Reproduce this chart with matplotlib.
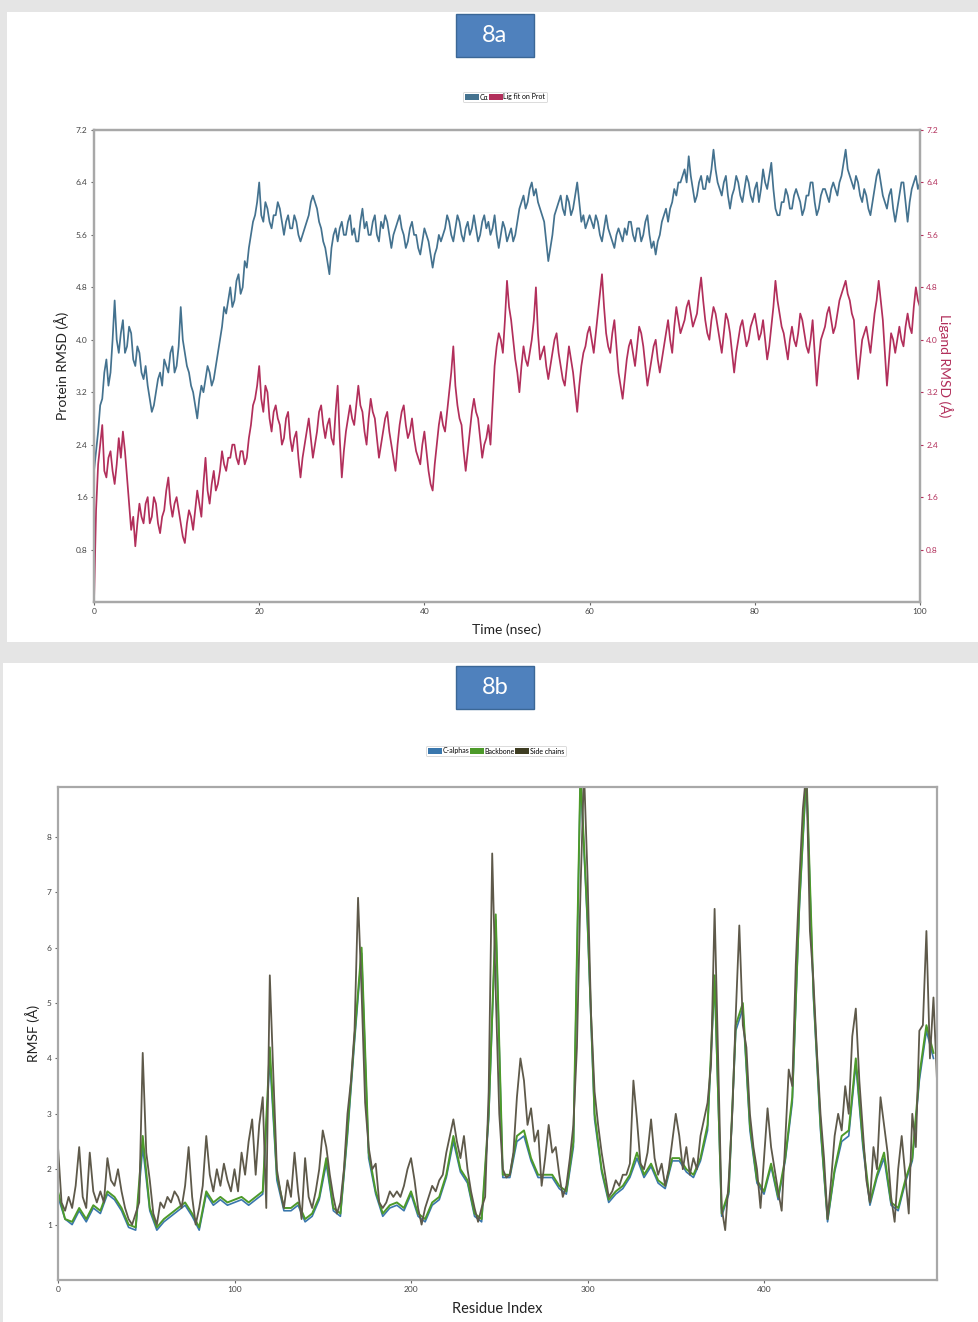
import numpy as np
import matplotlib
matplotlib.use("Agg")
import matplotlib.pyplot as plt
from matplotlib.patches import Rectangle, Patch

plt.rcParams["font.family"] = ["Lato", "DejaVu Sans"]

# ---------------- RMSD data (0.25 ns sampling, 0-100 ns) ----------------
time_step_ns = 0.25
protein_rmsd = [
    2.0, 2.3, 2.6, 3.0, 3.1, 3.5, 3.7, 3.3, 3.5, 4.0, 4.6, 4.0, 3.8, 4.1, 4.3, 3.8, 3.9, 4.2, 4.1, 3.7,
    3.6, 3.9, 3.8, 3.5, 3.4, 3.6, 3.3, 3.1, 2.9, 3.0, 3.2, 3.4, 3.5, 3.3, 3.7, 3.6, 3.5, 3.8, 3.9, 3.5,
    3.6, 3.9, 4.5, 4.0, 3.8, 3.6, 3.5, 3.3, 3.2, 3.0, 2.8, 3.1, 3.3, 3.2, 3.4, 3.6, 3.5, 3.3, 3.4, 3.6,
    3.8, 4.0, 4.2, 4.5, 4.4, 4.6, 4.8, 4.5, 4.6, 4.9, 5.0, 4.7, 4.8, 5.2, 5.1, 5.4, 5.6, 5.8, 5.9, 6.1,
    6.4, 5.9, 5.8, 6.1, 6.0, 5.8, 5.7, 5.9, 5.9, 6.1, 6.0, 5.8, 5.6, 5.8, 5.9, 5.7, 5.7, 5.9, 5.8, 5.6,
    5.5, 5.6, 5.7, 5.8, 5.9, 6.1, 6.2, 6.1, 6.0, 5.8, 5.7, 5.5, 5.4, 5.2, 5.0, 5.4, 5.6, 5.7, 5.5, 5.7,
    5.8, 5.6, 5.6, 5.8, 5.9, 5.6, 5.7, 5.5, 5.5, 5.8, 6.0, 5.7, 5.8, 5.6, 5.6, 5.8, 5.9, 5.6, 5.5, 5.8,
    5.7, 5.9, 5.8, 5.6, 5.4, 5.6, 5.7, 5.8, 5.9, 5.7, 5.6, 5.4, 5.5, 5.7, 5.8, 5.6, 5.6, 5.4, 5.3, 5.5,
    5.7, 5.6, 5.5, 5.3, 5.1, 5.3, 5.4, 5.6, 5.5, 5.6, 5.7, 5.9, 5.8, 5.6, 5.5, 5.7, 5.9, 5.8, 5.6, 5.5,
    5.7, 5.8, 5.6, 5.7, 5.9, 5.7, 5.5, 5.6, 5.8, 5.9, 5.7, 5.8, 5.6, 5.7, 5.9, 5.6, 5.4, 5.6, 5.8, 5.7,
    5.5, 5.6, 5.7, 5.5, 5.6, 5.8, 6.0, 6.1, 6.2, 6.0, 6.1, 6.3, 6.4, 6.2, 6.3, 6.1, 6.0, 5.9, 5.8, 5.5,
    5.2, 5.4, 5.6, 5.9, 6.0, 6.1, 6.2, 6.0, 5.9, 6.2, 6.1, 5.9, 6.0, 6.2, 6.4, 6.1, 5.8, 5.9, 5.7, 5.8,
    5.9, 5.8, 5.7, 5.9, 5.8, 5.6, 5.5, 5.7, 5.9, 5.7, 5.6, 5.5, 5.4, 5.6, 5.7, 5.6, 5.5, 5.7, 5.6, 5.8,
    5.8, 5.6, 5.5, 5.7, 5.7, 5.5, 5.6, 5.8, 5.9, 5.6, 5.4, 5.5, 5.3, 5.5, 5.6, 5.8, 5.9, 6.0, 5.8, 6.0,
    6.1, 6.3, 6.2, 6.4, 6.4, 6.5, 6.6, 6.4, 6.8, 6.5, 6.3, 6.1, 6.2, 6.4, 6.5, 6.3, 6.3, 6.5, 6.4, 6.6,
    6.9, 6.6, 6.4, 6.3, 6.2, 6.4, 6.5, 6.2, 6.0, 6.2, 6.3, 6.5, 6.4, 6.2, 6.1, 6.3, 6.5, 6.4, 6.2, 6.1,
    6.3, 6.4, 6.1, 6.3, 6.6, 6.4, 6.3, 6.5, 6.7, 6.3, 6.0, 5.9, 5.9, 6.1, 6.1, 6.3, 6.2, 6.0, 6.0, 6.2,
    6.3, 6.2, 6.1, 5.9, 6.0, 6.2, 6.2, 6.4, 6.4, 6.1, 5.9, 6.0, 6.2, 6.3, 6.3, 6.2, 6.1, 6.3, 6.4, 6.3,
    6.2, 6.4, 6.5, 6.7, 6.9, 6.6, 6.5, 6.4, 6.3, 6.5, 6.4, 6.2, 6.1, 6.3, 6.2, 6.0, 5.9, 6.1, 6.3, 6.5,
    6.6, 6.4, 6.2, 6.1, 6.0, 6.2, 6.3, 6.0, 5.8, 6.0, 6.2, 6.4, 6.4, 6.1, 5.8, 6.1, 6.3, 6.4, 6.5, 6.3,
    6.4,
]
ligand_rmsd = [
    0.0, 1.4, 2.1, 2.4, 2.7, 2.0, 1.9, 2.2, 2.3, 2.0, 1.8, 2.1, 2.5, 2.2, 2.6, 2.3, 1.9, 1.5, 1.1, 1.3,
    0.85, 1.2, 1.5, 1.3, 1.2, 1.5, 1.6, 1.2, 1.3, 1.6, 1.5, 1.2, 1.05, 1.3, 1.4, 1.7, 1.9, 1.5, 1.3, 1.5,
    1.6, 1.4, 1.2, 1.0, 0.9, 1.2, 1.4, 1.3, 1.1, 1.4, 1.7, 1.5, 1.3, 1.8, 2.2, 1.7, 1.5, 1.8, 2.0, 1.7,
    1.8, 2.0, 2.3, 2.1, 2.0, 2.2, 2.2, 2.4, 2.4, 2.2, 2.1, 2.3, 2.3, 2.1, 2.2, 2.5, 2.7, 3.0, 3.1, 3.3,
    3.6, 3.1, 2.9, 3.3, 3.2, 2.8, 2.6, 2.9, 3.0, 2.8, 2.7, 2.4, 2.5, 2.8, 2.9, 2.5, 2.3, 2.5, 2.6, 2.2,
    1.9, 2.2, 2.4, 2.6, 2.8, 2.5, 2.2, 2.4, 2.6, 2.9, 3.0, 2.7, 2.5, 2.7, 2.8, 2.5, 2.4, 2.9, 3.3, 2.5,
    1.9, 2.3, 2.6, 2.8, 3.0, 2.8, 2.7, 3.0, 3.3, 3.0, 2.9, 2.6, 2.4, 2.8, 3.1, 2.9, 2.8, 2.5, 2.2, 2.4,
    2.6, 2.8, 2.9, 2.6, 2.4, 2.2, 2.0, 2.4, 2.7, 2.9, 3.0, 2.7, 2.5, 2.6, 2.8, 2.5, 2.3, 2.2, 2.1, 2.4,
    2.6, 2.3, 2.0, 1.8, 1.7, 2.1, 2.4, 2.7, 2.9, 2.7, 2.6, 2.9, 3.2, 3.5, 3.9, 3.3, 3.0, 2.8, 2.7, 2.3,
    2.0, 2.3, 2.6, 2.9, 3.1, 2.9, 2.8, 2.5, 2.2, 2.4, 2.5, 2.7, 2.4, 3.0, 3.6, 3.9, 4.1, 4.0, 3.8, 4.3,
    4.9, 4.5, 4.3, 4.0, 3.7, 3.5, 3.2, 3.6, 3.9, 3.7, 3.6, 3.8, 4.0, 4.3, 4.8, 4.1, 3.7, 3.8, 3.9, 3.6,
    3.4, 3.6, 3.8, 4.0, 4.1, 3.8, 3.6, 3.4, 3.3, 3.6, 3.9, 3.7, 3.5, 3.2, 2.9, 3.3, 3.6, 3.8, 3.9, 4.1,
    4.2, 4.0, 3.8, 4.1, 4.4, 4.7, 5.0, 4.5, 4.1, 3.9, 3.8, 4.1, 4.3, 3.9, 3.5, 3.3, 3.1, 3.4, 3.7, 3.9,
    4.0, 3.8, 3.6, 3.9, 4.2, 4.1, 3.9, 3.6, 3.3, 3.5, 3.7, 3.9, 4.0, 3.7, 3.5, 3.7, 3.9, 4.1, 4.3, 4.0,
    3.8, 4.2, 4.5, 4.3, 4.1, 4.2, 4.3, 4.5, 4.6, 4.4, 4.2, 4.3, 4.4, 4.7, 4.95, 4.6, 4.3, 4.1, 4.0, 4.3,
    4.5, 4.4, 4.2, 4.0, 3.8, 4.1, 4.4, 4.3, 4.1, 3.8, 3.5, 3.8, 4.0, 4.2, 4.3, 4.1, 3.9, 4.0, 4.2, 4.3,
    4.4, 4.2, 4.0, 4.1, 4.3, 4.0, 3.7, 3.9, 4.2, 4.5, 4.9, 4.6, 4.4, 4.2, 4.1, 3.9, 3.7, 4.0, 4.2, 4.0,
    3.9, 4.1, 4.4, 4.3, 4.1, 3.9, 3.8, 4.0, 4.3, 3.8, 3.3, 3.7, 4.0, 4.1, 4.2, 4.4, 4.5, 4.3, 4.1, 4.2,
    4.4, 4.6, 4.7, 4.8, 4.9, 4.7, 4.6, 4.4, 4.3, 3.8, 3.4, 3.7, 4.0, 4.1, 4.2, 4.0, 3.8, 4.1, 4.4, 4.6,
    4.9, 4.6, 4.3, 3.8, 3.3, 3.7, 4.1, 4.0, 3.8, 4.0, 4.2, 4.0, 3.9, 4.2, 4.4, 4.2, 4.1, 4.5, 4.8, 4.6,
    4.5,
]
rmsd_ticks = [0.8, 1.6, 2.4, 3.2, 4.0, 4.8, 5.6, 6.4, 7.2]
time_ticks = [0, 20, 40, 60, 80, 100]

# ---------------- RMSF data ----------------
side_chain_step = 2
side_chains_rmsf = [
    2.4, 1.4, 1.25, 1.5, 1.3, 1.7, 2.4, 1.5, 1.3, 2.3, 1.6, 1.4, 1.6, 1.4, 2.2, 1.8, 1.7, 2.0, 1.6, 1.3,
    1.1, 1.0, 1.2, 1.4, 4.1, 2.3, 1.8, 1.2, 1.0, 1.4, 1.3, 1.5, 1.4, 1.6, 1.5, 1.3, 1.7, 2.4, 1.5, 1.0,
    1.3, 1.7, 2.6, 1.9, 1.6, 2.0, 1.7, 2.1, 1.8, 1.6, 2.0, 1.6, 2.3, 1.9, 2.5, 2.9, 1.9, 2.8, 3.3, 1.3,
    5.5, 3.7, 2.0, 1.6, 1.3, 1.8, 1.5, 2.3, 1.6, 1.1, 2.2, 1.5, 1.3, 1.6, 2.0, 2.7, 2.4, 1.9, 1.5, 1.2,
    1.4, 2.0, 3.0, 3.6, 4.5, 6.9, 5.2, 3.2, 2.4, 2.0, 2.1, 1.4, 1.3, 1.4, 1.6, 1.5, 1.6, 1.5, 1.7, 2.0,
    2.2, 1.8, 1.3, 1.0, 1.3, 1.5, 1.7, 1.6, 1.8, 1.9, 2.3, 2.6, 2.9, 2.5, 2.2, 2.6, 2.0, 1.6, 1.3, 1.05,
    1.3, 1.5, 3.4, 7.7, 5.2, 3.0, 2.0, 1.85, 1.9, 2.3, 3.3, 4.0, 3.6, 2.8, 3.1, 2.5, 2.7, 1.7, 2.2, 2.8,
    2.3, 2.4, 1.9, 1.5, 1.7, 2.2, 2.8, 4.2, 7.0, 9.2, 7.3, 4.8, 3.4, 2.8, 2.3, 1.9, 1.5, 1.6, 1.8, 1.7,
    1.9, 1.9, 2.1, 3.6, 2.9, 2.1, 2.0, 2.3, 2.9, 2.2, 1.9, 2.1, 1.7, 2.0, 2.5, 3.0, 2.6, 2.0, 2.4, 1.9,
    2.2, 2.0, 2.6, 2.9, 3.2, 3.9, 6.7, 4.0, 1.3, 0.9, 1.8, 3.0, 4.8, 6.4, 4.6, 4.2, 3.0, 2.4, 2.0, 1.3,
    2.2, 3.1, 2.4, 2.0, 1.6, 1.25, 2.5, 3.8, 3.5, 5.7, 7.2, 8.5, 9.2, 6.3, 5.4, 4.1, 3.0, 2.2, 1.1, 1.8,
    2.6, 3.0, 2.7, 3.5, 3.0, 4.4, 4.9, 3.6, 2.7, 1.8, 1.4, 2.4, 2.0, 3.3, 2.8, 2.3, 1.5, 1.05, 2.0, 2.6,
    1.9, 1.2, 3.0, 2.4, 4.5, 4.6, 6.3, 4.0, 5.1, 3.6,
]
backbone_step = 4
backbone_rmsf = [
    1.6, 1.1, 1.05, 1.3, 1.1, 1.35, 1.25, 1.6, 1.5, 1.3, 1.0, 0.95, 2.6, 1.3, 0.95, 1.1, 1.2, 1.3, 1.4, 1.2,
    0.95, 1.6, 1.4, 1.5, 1.4, 1.45, 1.5, 1.4, 1.5, 1.6, 4.2, 1.9, 1.3, 1.3, 1.4, 1.1, 1.2, 1.5, 2.2, 1.3,
    1.2, 2.7, 4.4, 6.0, 2.3, 1.6, 1.2, 1.35, 1.4, 1.3, 1.6, 1.2, 1.1, 1.4, 1.5, 1.9, 2.6, 2.0, 1.8, 1.2,
    1.1, 3.0, 6.6, 1.9, 1.9, 2.6, 2.7, 2.2, 1.9, 1.9, 1.9, 1.7, 1.6, 2.5, 9.2, 6.5, 3.0, 2.0, 1.45, 1.6,
    1.7, 1.9, 2.3, 1.9, 2.1, 1.8, 1.7, 2.2, 2.2, 2.0, 1.9, 2.2, 2.8, 5.5, 1.2, 1.6, 4.6, 5.0, 2.8, 1.8,
    1.6, 2.1, 1.5, 2.2, 3.3, 6.8, 9.2, 5.2, 2.8, 1.1, 2.0, 2.6, 2.7, 4.0, 2.5, 1.4, 1.9, 2.3, 1.4, 1.3,
    1.8, 2.2, 3.7, 4.6, 4.1,
]
calpha_rmsf = [
    1.5, 1.1, 1.0, 1.25, 1.05, 1.3, 1.2, 1.55, 1.45, 1.25, 0.95, 0.9, 2.4, 1.25, 0.9, 1.05, 1.15, 1.25, 1.35, 1.15,
    0.9, 1.55, 1.35, 1.45, 1.35, 1.4, 1.45, 1.35, 1.45, 1.55, 4.0, 1.8, 1.25, 1.25, 1.35, 1.05, 1.15, 1.45, 2.1, 1.25,
    1.15, 2.6, 4.3, 5.9, 2.2, 1.55, 1.15, 1.3, 1.35, 1.25, 1.55, 1.15, 1.05, 1.35, 1.45, 1.85, 2.5, 1.95, 1.75, 1.15,
    1.05, 2.9, 6.5, 1.85, 1.85, 2.5, 2.6, 2.15, 1.85, 1.85, 1.85, 1.65, 1.55, 2.4, 9.1, 6.4, 2.9, 1.95, 1.4, 1.55,
    1.65, 1.85, 2.2, 1.85, 2.05, 1.75, 1.65, 2.15, 2.15, 1.95, 1.85, 2.15, 2.7, 5.4, 1.15, 1.55, 4.5, 4.9, 2.7, 1.75,
    1.55, 2.05, 1.45, 2.15, 3.2, 6.7, 9.1, 5.1, 2.7, 1.05, 1.95, 2.5, 2.6, 3.9, 2.4, 1.35, 1.85, 2.2, 1.35, 1.25,
    1.75, 2.15, 3.6, 4.5, 4.0,
]
rmsf_yticks = [1, 2, 3, 4, 5, 6, 7, 8]
residue_ticks = [0, 100, 200, 300, 400]

# ---------------- colours ----------------
C_PROT = "#44728f"
C_LIG = "#b22f5b"
C_CA = "#3a77ad"
C_BB = "#4d9a2a"
C_SC = "#5e594a"
SPINE = "#a8a8a8"

W, H = 979, 1322
fig = plt.figure(figsize=(W / 100, H / 100), dpi=100, facecolor="#e5e5e5")


def fx(px):
    return px / W


def fy(py):
    return 1 - py / H


# white panels behind each chart
fig.patches.append(Rectangle((fx(7), fy(642)), fx(979) - fx(7), fy(12) - fy(642),
                             transform=fig.transFigure, facecolor="white", edgecolor="none", zorder=-10))
fig.patches.append(Rectangle((fx(3), fy(1322)), fx(979) - fx(3), fy(663) - fy(1322),
                             transform=fig.transFigure, facecolor="white", edgecolor="none", zorder=-10))

# panel tags
for label, top in (("8a", 14), ("8b", 666)):
    fig.patches.append(Rectangle((fx(456), fy(top + 43)), fx(78), 43 / H,
                                 transform=fig.transFigure, facecolor="#4f81bd",
                                 edgecolor="#3b6796", linewidth=1.0, zorder=1))
    fig.text(fx(495), fy(top + 21.5), label, color="white", fontsize=17,
             ha="center", va="center", zorder=2)


def style_axis(ax):
    for s in ax.spines.values():
        s.set_color(SPINE)
        s.set_linewidth(1.6)
    ax.tick_params(axis="both", labelsize=6, length=2.5, width=0.8, color="#666666",
                   labelcolor="#444444", pad=2)


# ---------------- panel 8a ----------------
t = np.arange(len(protein_rmsd)) * time_step_ns
ax1 = fig.add_axes([fx(94), fy(602), fx(920) - fx(94), fy(130) - fy(602)])
ax1.set_facecolor("none")
ax1.plot(t, protein_rmsd, color=C_PROT, lw=1.25)
ax1.set_xlim(0, 100)
ax1.set_ylim(0, 7.2)
ax1.set_xticks(time_ticks)
ax1.set_yticks(rmsd_ticks)
ax1.set_yticklabels([f"{v:.1f}" for v in rmsd_ticks])
style_axis(ax1)
ax1.set_ylabel("Protein RMSD (Å)", fontsize=10, color="#222222")
ax1.yaxis.set_label_coords(-0.03, 0.5)
ax1.set_xlabel("Time (nsec)", fontsize=10, color="#222222")
ax1.xaxis.set_label_coords(0.5, -0.045)

ax2 = ax1.twinx()
t_lig = np.arange(len(ligand_rmsd)) * time_step_ns
ax2.plot(t_lig, ligand_rmsd, color=C_LIG, lw=1.25)
ax2.set_ylim(0, 7.2)
ax2.set_yticks(rmsd_ticks)
ax2.set_yticklabels([f"{v:.1f}" for v in rmsd_ticks])
style_axis(ax2)
ax2.tick_params(axis="y", labelcolor=C_LIG, color=C_LIG)
ax2.set_ylabel("Ligand RMSD (Å)", fontsize=10, color=C_LIG, rotation=270)
ax2.yaxis.set_label_coords(1.04, 0.5)

leg_a = fig.legend(handles=[Patch(facecolor=C_PROT, label="Cα"),
                            Patch(facecolor=C_LIG, label="Lig fit on Prot")],
                   loc="center", bbox_to_anchor=(fx(505), fy(97)), ncol=2, fontsize=5,
                   handlelength=2.0, handleheight=0.8, handletextpad=0.1, columnspacing=0.1,
                   borderpad=0.25, frameon=True, fancybox=True)
leg_a.get_frame().set_edgecolor("#cccccc")
leg_a.get_frame().set_linewidth(0.6)

# ---------------- panel 8b ----------------
r_sc = np.arange(len(side_chains_rmsf)) * side_chain_step
r_bb = np.arange(len(backbone_rmsf)) * backbone_step
r_ca = np.arange(len(calpha_rmsf)) * backbone_step

ax3 = fig.add_axes([fx(58), fy(1280), fx(937) - fx(58), fy(787) - fy(1280)])
ax3.set_facecolor("none")
ax3.plot(r_ca, calpha_rmsf, color=C_CA, lw=1.2)
ax3.plot(r_bb, backbone_rmsf, color=C_BB, lw=1.4)
ax3.plot(r_sc, side_chains_rmsf, color=C_SC, lw=1.3)
ax3.set_xlim(0, 498)
ax3.set_ylim(0, 8.9)
ax3.set_xticks(residue_ticks)
ax3.set_yticks(rmsf_yticks)
style_axis(ax3)
ax3.set_ylabel("RMSF (Å)", fontsize=10, color="#222222")
ax3.yaxis.set_label_coords(-0.02, 0.5)
ax3.set_xlabel("Residue Index", fontsize=10.5, color="#222222")
ax3.xaxis.set_label_coords(0.5, -0.045)

leg_b = fig.legend(handles=[Patch(facecolor=C_CA, label="C-alphas"),
                            Patch(facecolor=C_BB, label="Backbone"),
                            Patch(facecolor="#3e3d22", label="Side chains")],
                   loc="center", bbox_to_anchor=(fx(496), fy(751)), ncol=3, fontsize=5,
                   handlelength=2.0, handleheight=0.8, handletextpad=0.1, columnspacing=0.1,
                   borderpad=0.25, frameon=True, fancybox=True)
leg_b.get_frame().set_edgecolor("#cccccc")
leg_b.get_frame().set_linewidth(0.6)

fig.savefig("out.png", dpi=100, facecolor=fig.get_facecolor())
